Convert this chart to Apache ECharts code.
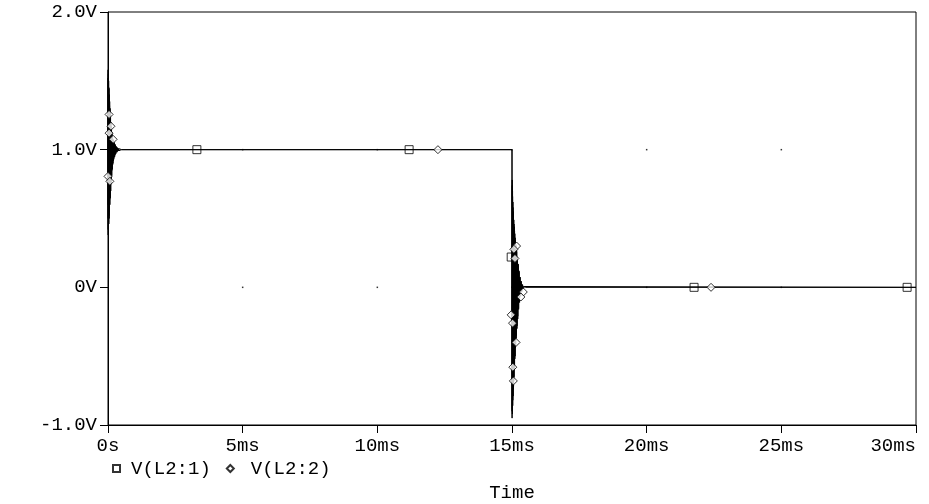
<!DOCTYPE html>
<html>
<head>
<meta charset="utf-8">
<script src="https://cdn.jsdelivr.net/npm/echarts@6/dist/echarts.min.js"></script>
<style>
html,body{margin:0;padding:0;background:#fff;}
#chart{width:929px;height:504px;}
</style>
</head>
<body>
<div id="chart"></div>
<script>
// Axis ticks and labels
const xTicks = [0, 5, 10, 15, 20, 25, 30];
const xTickLabels = ['0s', '5ms', '10ms', '15ms', '20ms', '25ms', '30ms'];
const yTicks = [-1, 0, 1, 2];
const yTickLabels = ['-1.0V', '0V', '1.0V', '2.0V'];

// V(L2:1) trace: [time (ms), volts]
const traceL21 = [
  [0,0.5],[0.003,1.58],[0.008,0.38],[0.013,1.55],[0.018,0.42],[0.024,1.5],[0.03,0.46],[0.036,1.45],
  [0.042,0.5],[0.048,1.4],[0.055,0.55],[0.062,1.35],[0.07,0.6],[0.078,1.3],[0.086,0.65],[0.094,1.25],
  [0.102,0.7],[0.11,1.2],[0.12,0.76],[0.13,1.16],[0.14,0.81],[0.15,1.12],[0.16,0.86],[0.17,1.09],
  [0.185,0.9],[0.2,1.07],[0.215,0.93],[0.23,1.05],[0.25,0.95],[0.27,1.035],[0.29,0.97],[0.31,1.02],
  [0.34,0.985],[0.37,1.012],[0.41,0.993],[0.45,1.005],[0.5,1.0],
  [15.0,1.0],[15.003,-0.95],[15.008,0.78],[15.014,-0.92],[15.02,0.7],[15.027,-0.86],[15.034,0.62],
  [15.042,-0.79],[15.05,0.55],[15.058,-0.72],[15.067,0.49],[15.076,-0.65],[15.085,0.44],[15.095,-0.58],
  [15.105,0.39],[15.115,-0.5],[15.126,0.34],[15.137,-0.42],[15.149,0.3],[15.161,-0.35],[15.174,0.26],
  [15.187,-0.28],[15.2,0.21],[15.214,-0.21],[15.228,0.16],[15.243,-0.15],[15.258,0.11],[15.274,-0.1],
  [15.29,0.07],[15.308,-0.06],[15.326,0.04],[15.346,-0.03],[15.368,0.02],[15.392,-0.012],[15.42,0.006],
  [15.45,-0.003],[15.49,0.001],[15.52,0],[30,0]
];

// V(L2:2) trace: [time (ms), volts]
const traceL22 = [
  [0,0.6],[0.004,1.52],[0.009,0.42],[0.015,1.48],[0.021,0.47],[0.028,1.44],[0.035,0.52],[0.042,1.38],
  [0.05,0.58],[0.058,1.32],[0.066,0.64],[0.075,1.26],[0.084,0.7],[0.093,1.21],[0.103,0.75],[0.113,1.17],
  [0.124,0.8],[0.135,1.13],[0.147,0.85],[0.16,1.1],[0.174,0.89],[0.188,1.075],[0.203,0.92],[0.22,1.055],
  [0.238,0.945],[0.257,1.04],[0.278,0.965],[0.3,1.025],[0.325,0.98],[0.352,1.015],[0.385,0.99],
  [0.42,1.007],[0.46,0.997],[0.5,1.0],
  [15.0,1.0],[15.004,-0.9],[15.009,0.74],[15.015,-0.88],[15.022,0.66],[15.03,-0.82],[15.038,0.58],
  [15.046,-0.74],[15.055,0.52],[15.064,-0.68],[15.074,0.46],[15.084,-0.6],[15.095,0.41],[15.106,-0.52],
  [15.118,0.36],[15.13,-0.44],[15.143,0.31],[15.156,-0.37],[15.17,0.27],[15.184,-0.3],[15.199,0.22],
  [15.214,-0.23],[15.23,0.17],[15.246,-0.16],[15.263,0.12],[15.281,-0.11],[15.3,0.075],[15.32,-0.065],
  [15.342,0.045],[15.366,-0.032],[15.392,0.02],[15.42,-0.012],[15.45,0.006],[15.485,-0.002],[15.52,0],[30,0]
];

// Marker points
const markersL21 = [[3.3,1.0],[11.18,1.0],[14.97,0.22],[21.76,0],[29.67,0]];
const markersL22 = [
  [0.04,1.256],[0.11,1.17],[0.04,1.12],[0.19,1.075],[0.0,0.806],[0.07,0.77],
  [12.25,1.0],
  [15.17,0.3],[15.07,0.276],[15.11,0.21],[15.42,-0.034],[15.33,-0.07],[14.97,-0.2],[15.02,-0.26],
  [15.15,-0.4],[15.03,-0.58],[15.05,-0.68],
  [22.39,0]
];

const FONT = 'Liberation Mono, DejaVu Sans Mono, monospace';

// grid dots at interior tick intersections
const gridDots = [];
xTicks.slice(1, -1).forEach(x => yTicks.slice(1, -1).forEach(y => gridDots.push([x, y])));

const chart = echarts.init(document.getElementById('chart'), null, {renderer: 'canvas'});
chart.setOption({
  animation: false,
  backgroundColor: '#fff',
  grid: {left: 108, right: 13, top: 12, bottom: 79, show: true, borderColor: '#000', borderWidth: 1,
         backgroundColor: 'transparent', containLabel: false, outerBoundsMode: 'none'},
  legend: {
    left: 107, top: 454,
    itemWidth: 7, itemHeight: 7, itemGap: 15,
    textStyle: {fontFamily: FONT, fontSize: 19, color: '#000', padding: [0, 0, 0, 6]},
    data: [
      {name: 'V(L2:1)', icon: 'rect'},
      {name: 'V(L2:2)', icon: 'diamond', textStyle: {padding: [0, 0, 0, 12]}}
    ]
  },
  xAxis: {
    type: 'value', min: 0, max: 30, interval: 5,
    axisLine: {show: true, onZero: false, lineStyle: {color: '#000', width: 1}},
    axisTick: {show: true, inside: false, length: 8, lineStyle: {color: '#000'}},
    splitLine: {show: false},
    axisLabel: {
      margin: 11, color: '#000', fontFamily: FONT, fontSize: 19, alignMaxLabel: 'right',
      formatter: v => xTickLabels[xTicks.indexOf(Math.round(v))]
    },
    name: 'Time', nameLocation: 'middle', nameGap: 58,
    nameTextStyle: {fontFamily: FONT, fontSize: 19, color: '#000'}
  },
  yAxis: {
    type: 'value', min: -1, max: 2, interval: 1,
    axisLine: {show: true, lineStyle: {color: '#000', width: 1}},
    axisTick: {show: true, inside: false, length: 8, lineStyle: {color: '#000'}},
    splitLine: {show: false},
    axisLabel: {
      margin: 11, color: '#000', fontFamily: FONT, fontSize: 19,
      formatter: v => yTickLabels[yTicks.indexOf(Math.round(v))]
    }
  },
  series: [
    {name: 'traceL21', type: 'line', data: traceL21, showSymbol: false, symbol: 'none', sampling: null,
     lineStyle: {color: '#000', width: 1}, z: 2},
    {name: 'traceL22', type: 'line', data: traceL22, showSymbol: false, symbol: 'none', sampling: null,
     lineStyle: {color: '#000', width: 1}, z: 2},
    {name: 'grid', type: 'scatter', data: gridDots, symbol: 'rect', symbolSize: 1.5,
     itemStyle: {color: '#000'}, z: 1, silent: true},
    {name: 'V(L2:1)', type: 'scatter', data: markersL21, symbol: 'rect', symbolSize: [8, 8],
     itemStyle: {color: 'rgba(255,255,255,0)', borderColor: '#000', borderWidth: 1}, z: 3},
    {name: 'V(L2:2)', type: 'scatter', data: markersL22, symbol: 'diamond', symbolSize: [8, 8],
     itemStyle: {color: '#fff', borderColor: '#000', borderWidth: 1}, z: 3}
  ]
});
</script>
</body>
</html>
